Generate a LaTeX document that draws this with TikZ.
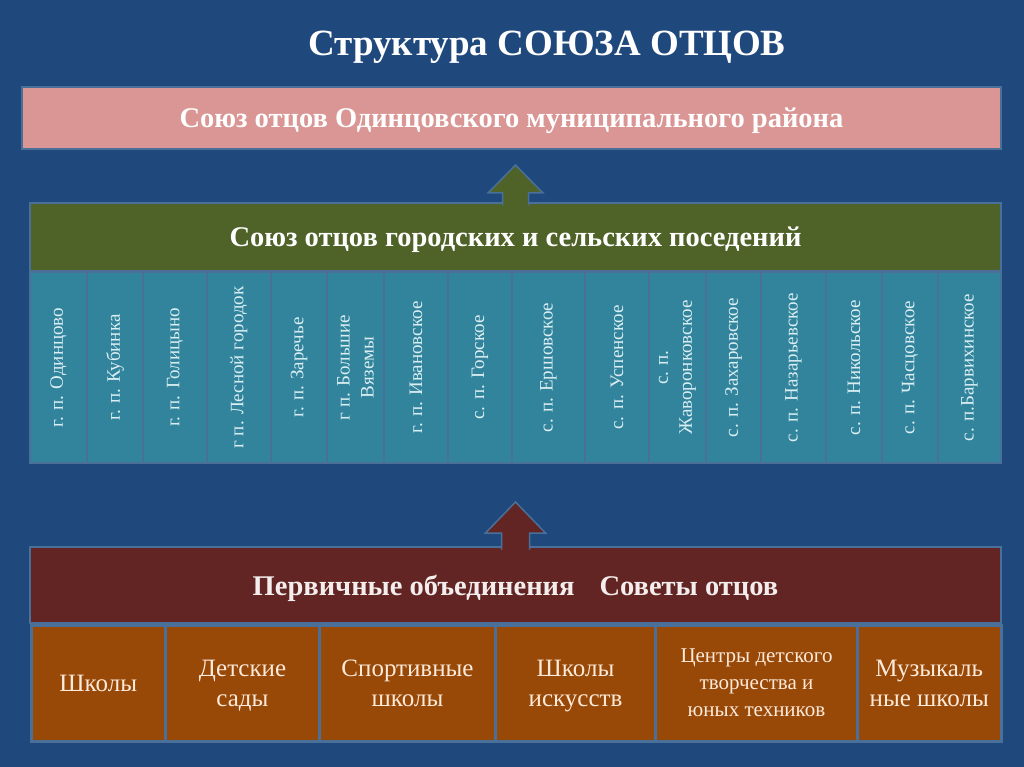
\documentclass[tikz,border=0pt]{standalone}
\usepackage{fontspec}
\setmainfont{Liberation Serif}
\usetikzlibrary{positioning, calc}

\definecolor{bgblue}{HTML}{1F497D}
\definecolor{edgeblue}{HTML}{4A6F98}
\definecolor{rosebox}{HTML}{D99694}
\definecolor{olivebox}{HTML}{4F6228}
\definecolor{tealbox}{HTML}{31849B}
\definecolor{wineb}{HTML}{632523}
\definecolor{rustbox}{HTML}{984807}
\definecolor{iceText}{HTML}{DAEEF3}
\definecolor{creamText}{HTML}{FDEADA}

\begin{document}
\begin{tikzpicture}[x=1pt, y=-1pt,
    every node/.style={inner sep=0pt, outer sep=0pt, align=center},
    band/.style={draw=edgeblue, line width=2pt, text=white, text depth=0pt,
      font=\bfseries\fontsize{28.5}{32}\selectfont},
    colbox/.style={draw=edgeblue, line width=2.5pt, fill=tealbox, text=iceText,
      rotate=90, minimum width=191pt, font=\fontsize{19}{24}\selectfont},
    unitbox/.style={draw=edgeblue, line width=3pt, fill=rustbox, text=creamText,
      text depth=0pt, minimum height=116pt},
    bigunit/.style={font=\fontsize{25}{30}\selectfont},
    smallunit/.style={font=\fontsize{21}{27}\selectfont},
    blockarrow/.style={draw=edgeblue, line width=1.5pt, line join=miter}
  ]
  \useasboundingbox (0,0) rectangle (1024,767);
  \fill[bgblue] (0,0) rectangle (1024,767);

  % title
  \node[text=white, text depth=0pt, font=\bfseries\fontsize{37}{40}\selectfont] (title) at (547,43) {Структура СОЮЗА ОТЦОВ};

  % top level
  \node[band, fill=rosebox, minimum width=979pt, minimum height=62pt] (rayon) at (511.5,118)
    {Союз отцов Одинцовского муниципального района};

  % settlements
  \node[band, fill=olivebox, minimum width=971pt, minimum height=68pt] (poselen) at (515.5,237)
    {Союз отцов городских и сельских поседений};

  \foreach \l/\r/\t [count=\i] in {
      30/87/{г. п. Одинцово},
      87/143/{г. п. Кубинка},
      143/207/{г. п. Голицыно},
      207/271/{г п. Лесной городок},
      271/327/{г. п. Заречье},
      327/384/{г п. Большие\\Вяземы},
      384/448/{г. п. Ивановское},
      448/512/{с. п. Горское},
      512/585/{с. п. Ершовское},
      585/649/{с. п. Успенское},
      649/706/{с. п.\\Жаворонковское},
      706/761/{с. п. Захаровское},
      761/826/{с. п. Назарьевское},
      826/882/{с. п. Никольское},
      882/938/{с. п. Часцовское},
      938/1001/{с. п.Барвихинское}}
    \node[colbox, minimum height={(\r-\l)*1pt}] (c\i) at ({(\l+\r)/2},367.5) {\t};

  % primary units
  \node[band, fill=wineb, text=white!92!wineb, minimum width=971pt, minimum height=76pt] (pervich) at (515.5,585)
    {Первичные объединения\hspace*{25pt}Советы отцов};

  \foreach \l/\r/\f/\t [count=\i] in {
      31/165.5/bigunit/{Школы},
      165.5/319.5/bigunit/{Детские\\сады},
      319.5/495.5/bigunit/{Спортивные\\школы},
      495.5/655.5/bigunit/{Школы\\искусств},
      655.5/857.5/smallunit/{Центры детского\\творчества и\\юных техников},
      857.5/1001/bigunit/{Музыкаль\\ные школы}}
    \node[unitbox, \f, minimum width={(\r-\l)*1pt}] (u\i) at ({(\l+\r)/2},683) {\t};

  % arrows
  \filldraw[blockarrow, fill=olivebox]
    ($(poselen.north)+(-13,2.5)$) |- ($(poselen.north)+(-27.5,-10)$)
    -- ($(poselen.north)+(0,-38)$)
    -- ($(poselen.north)+(27.5,-10)$) -| ($(poselen.north)+(13,2.5)$);
  \filldraw[blockarrow, fill=wineb]
    ($(pervich.north)+(-14,2.5)$) |- ($(pervich.north)+(-30,-14)$)
    -- ($(pervich.north)+(0,-45)$)
    -- ($(pervich.north)+(30,-14)$) -| ($(pervich.north)+(14,2.5)$);
\end{tikzpicture}
\end{document}
